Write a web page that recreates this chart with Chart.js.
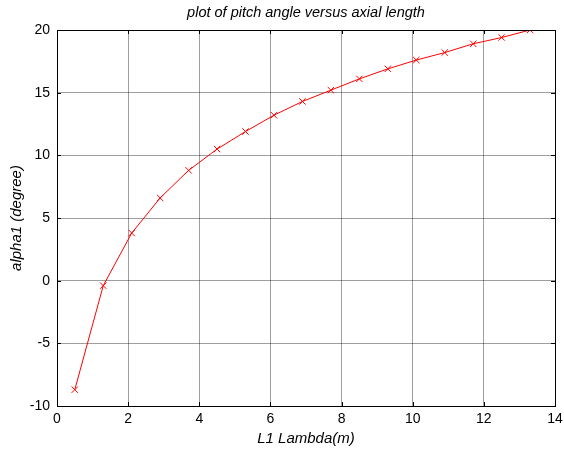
<!DOCTYPE html>
<html>
<head>
<meta charset="utf-8">
<script src="https://cdn.jsdelivr.net/npm/chart.js@4"></script>
<style>
  html, body { margin: 0; padding: 0; background: #fff; }
  #wrap { width: 564px; height: 452px; }
</style>
</head>
<body>
<div id="wrap"><canvas id="pitchChart" width="564" height="452"></canvas></div>
<script>
// L1 Lambda (m) and pitch angle alpha1 (degree)
const lambdaVals = [0.5, 1.3, 2.1, 2.9, 3.7, 4.5, 5.3, 6.1, 6.9, 7.7, 8.5, 9.3, 10.1, 10.9, 11.7, 12.5, 13.3];
const alphaVals = [-8.7, -0.4, 3.8, 6.6, 8.8, 10.5, 11.9, 13.2, 14.3, 15.2, 16.1, 16.9, 17.6, 18.2, 18.9, 19.4, 20.0];
const xTicks = [0, 2, 4, 6, 8, 10, 12, 14];
const yTicks = [-10, -5, 0, 5, 10, 15, 20];

const font = "'Liberation Sans', Arial, sans-serif";

// black box round the plot with inward tick marks, matlab style
const boxTicks = {
    id: 'boxTicks',
    afterDraw(chart) {
        const { ctx, chartArea: a, scales } = chart;
        ctx.save();
        ctx.strokeStyle = '#000';
        ctx.lineWidth = 1;
        ctx.strokeRect(Math.round(a.left) + 0.5, Math.round(a.top) + 0.5,
            Math.round(a.right - a.left), Math.round(a.bottom - a.top));
        ctx.beginPath();
        xTicks.forEach(v => {
            const px = Math.round(scales.x.getPixelForValue(v)) + 0.5;
            ctx.moveTo(px, a.bottom); ctx.lineTo(px, a.bottom - 4);
            ctx.moveTo(px, a.top); ctx.lineTo(px, a.top + 4);
        });
        yTicks.forEach(v => {
            const py = Math.round(scales.y.getPixelForValue(v)) + 0.5;
            ctx.moveTo(a.left, py); ctx.lineTo(a.left + 4, py);
            ctx.moveTo(a.right, py); ctx.lineTo(a.right - 4, py);
        });
        ctx.stroke();
        ctx.restore();
    }
};

new Chart(document.getElementById('pitchChart'), {
    type: 'line',
    data: {
        datasets: [{
            data: lambdaVals.map((x, i) => ({ x: x, y: alphaVals[i] })),
            borderColor: '#ff0000',
            backgroundColor: '#ff0000',
            borderWidth: 1,
            pointStyle: 'crossRot',
            pointRadius: 4.5,
            pointBorderWidth: 1,
            pointBorderColor: '#ff0000',
            tension: 0,
            fill: false
        }]
    },
    options: {
        responsive: false,
        animation: false,
        layout: { padding: { left: 0, right: 9, top: 0, bottom: 0 } },
        plugins: {
            legend: { display: false },
            tooltip: { enabled: false },
            title: {
                display: true,
                fullSize: false,
                text: 'plot of pitch angle versus axial length',
                color: '#000',
                font: { family: font, size: 14.5, style: 'italic', weight: 'normal' },
                padding: { top: 4, bottom: 8.6 }
            }
        },
        scales: {
            x: {
                type: 'linear',
                min: 0,
                max: 14,
                afterBuildTicks: s => { s.ticks = xTicks.map(v => ({ value: v })); },
                afterFit: s => { s.height = 46; s.paddingRight = 0; s.paddingLeft = 0; },
                grid: { color: 'rgba(0,0,0,0.38)', lineWidth: 1, drawTicks: false },
                border: { display: false },
                ticks: { color: '#000', padding: 5, maxRotation: 0, font: { family: font, size: 14 } },
                title: {
                    display: true,
                    text: 'L1 Lambda(m)',
                    color: '#000',
                    font: { family: font, size: 15, style: 'italic' },
                    padding: { top: 0, bottom: 4 }
                }
            },
            y: {
                type: 'linear',
                min: -10,
                max: 20,
                afterBuildTicks: s => { s.ticks = yTicks.map(v => ({ value: v })); },
                afterFit: s => { s.width = 57; },
                grid: { color: 'rgba(0,0,0,0.38)', lineWidth: 1, drawTicks: false },
                border: { display: false },
                ticks: { color: '#000', padding: 7, font: { family: font, size: 14 } },
                title: {
                    display: true,
                    text: 'alpha1 (degree)',
                    color: '#000',
                    font: { family: font, size: 15, style: 'italic' },
                    padding: { top: 8, bottom: 0 }
                }
            }
        }
    },
    plugins: [boxTicks]
});
</script>
</body>
</html>
